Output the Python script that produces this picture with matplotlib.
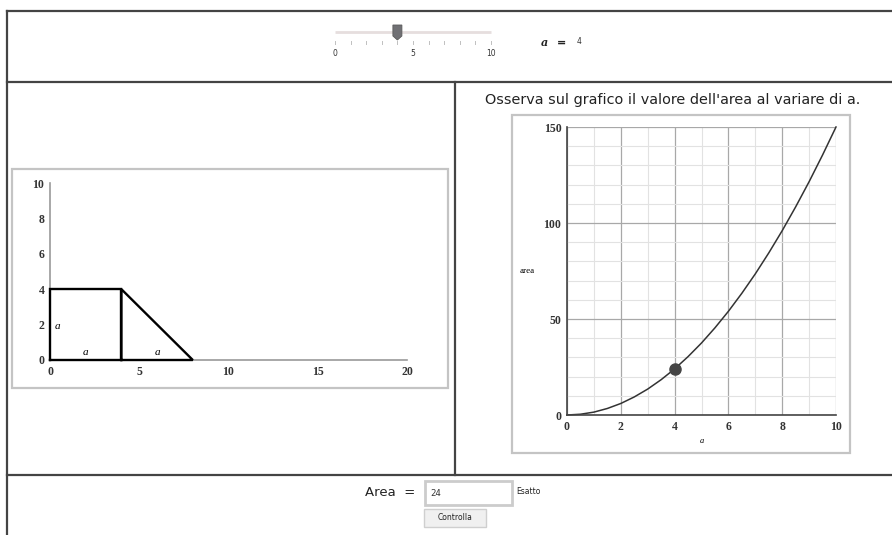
import matplotlib
matplotlib.use('Agg')
import matplotlib.pyplot as plt
from matplotlib.patches import Rectangle, Polygon
from matplotlib.ticker import MultipleLocator

# valore corrente del cursore
a_val = 4
slider_min, slider_max = 0, 10

# figura geometrica: rettangolo a x a e triangolo di base a
rect_x = [0, 4, 4, 0, 0]
rect_y = [0, 0, 4, 4, 0]
tri_x = [4, 4, 8, 4]
tri_y = [0, 4, 0, 0]
geo_xticks = [0, 5, 10, 15, 20]
geo_yticks = [0, 2, 4, 6, 8, 10]

# grafico dell'area in funzione di a
a_vals = [0, 0.5, 1, 1.5, 2, 2.5, 3, 3.5, 4, 4.5, 5, 5.5, 6, 6.5, 7, 7.5, 8, 8.5, 9, 9.5, 10]
area_vals = [0, 0.4, 1.5, 3.4, 6, 9.4, 13.5, 18.4, 24, 30.4, 37.5, 45.4, 54, 63.4,
             73.5, 84.4, 96, 108.4, 121.5, 135.4, 150]
area_xticks = [0, 2, 4, 6, 8, 10]
area_yticks = [0, 50, 100, 150]
area_point = (4, 24)

W, H = 892, 535
fig = plt.figure(figsize=(W / 100, H / 100), dpi=100)

# livello di sfondo in pixel
bg = fig.add_axes([0, 0, 1, 1])
bg.set_xlim(0, W)
bg.set_ylim(H, 0)
bg.axis('off')

frame = dict(color='#444444', lw=1.6)
bg.plot([7, W], [11, 11], **frame)
bg.plot([7, 7], [11, H], **frame)
bg.plot([7, W], [82, 82], **frame)
bg.plot([7, W], [475, 475], **frame)
bg.plot([455, 455], [82, 475], **frame)

# cursore
sx0, sx1, sy = 335, 491, 32
bg.plot([sx0, sx1], [sy, sy], color='#e6dede', lw=2, solid_capstyle='butt')
for v in range(slider_min, slider_max + 1):
    tx = sx0 + (sx1 - sx0) * (v - slider_min) / (slider_max - slider_min)
    bg.plot([tx, tx], [41, 44], color='#c0c0c0', lw=0.7)
    if v % 5 == 0:
        bg.text(tx, 54, str(v), ha='center', va='center', fontsize=5.5,
                family='DejaVu Sans', color='#333333')
thx = sx0 + (sx1 - sx0) * (a_val - slider_min) / (slider_max - slider_min)
bg.add_patch(Polygon([[thx - 4.5, 25], [thx + 4.5, 25], [thx + 4.5, 36], [thx, 40], [thx - 4.5, 36]],
                     closed=True, facecolor='#707074', edgecolor='#5a5a5a', lw=0.6, zorder=4))
bg.text(544, 43, 'a', ha='center', va='center', fontsize=8, style='italic',
        weight='bold', family='DejaVu Serif', color='#222222')
bg.text(561, 43, '=', ha='center', va='center', fontsize=8, weight='bold', color='#222222')
bg.text(579, 42, str(a_val), ha='center', va='center', fontsize=5.5, color='#333333')

# riquadri dei grafici
bg.add_patch(Rectangle((12, 169), 436, 219, fill=False, edgecolor='#c4c4c4', lw=1.6))
bg.add_patch(Rectangle((512, 115), 338, 338, fill=False, edgecolor='#c4c4c4', lw=1.6))

bg.text(673, 100, "Osserva sul grafico il valore dell'area al variare di a.",
        ha='center', va='center', fontsize=10.4, family='DejaVu Sans', color='#222222')

# zona risposta
bg.text(390, 493, 'Area  =', ha='center', va='center', fontsize=9.5,
        family='DejaVu Sans', color='#222222')
bg.add_patch(Rectangle((425, 481), 87, 24, facecolor='white', edgecolor='#cccccc', lw=2))
bg.text(430, 493, str(int(area_point[1])), ha='left', va='center', fontsize=6.5,
        family='DejaVu Sans Mono', color='#333333')
bg.text(516, 492, 'Esatto', ha='left', va='center', fontsize=5.5, color='#222222')
bg.add_patch(Rectangle((424, 509), 62, 18, facecolor='#f0f0f0', edgecolor='#cfcfcf', lw=1))
bg.text(455, 518, 'Controlla', ha='center', va='center', fontsize=5.5, color='#222222')

serif = 'Liberation Serif'

# grafico sinistro: figura
ax1 = fig.add_axes([50 / W, (H - 360) / H, 357 / W, 177 / H])
ax1.set_xlim(0, 20)
ax1.set_ylim(0, 10)
ax1.patch.set_alpha(0)
for s in ['top', 'right']:
    ax1.spines[s].set_visible(False)
for s in ['left', 'bottom']:
    ax1.spines[s].set_color('#9a9a9a')
    ax1.spines[s].set_linewidth(1.2)
ax1.set_xticks(geo_xticks)
ax1.set_yticks(geo_yticks)
ax1.tick_params(length=0, labelsize=8.5, pad=4)
for lab in ax1.get_xticklabels() + ax1.get_yticklabels():
    lab.set_family(serif)
    lab.set_weight('bold')
    lab.set_color('#333333')
ax1.plot(rect_x, rect_y, color='black', lw=1.7, clip_on=False, solid_joinstyle='miter', zorder=4)
ax1.plot(tri_x, tri_y, color='black', lw=1.7, clip_on=False, solid_joinstyle='miter', zorder=4)
ax1.text(0.25, 1.9, 'a', style='italic', fontsize=8, family=serif, ha='left', va='center')
ax1.text(2.0, 0.4, 'a', style='italic', fontsize=8, family=serif, ha='center', va='center')
ax1.text(6.0, 0.4, 'a', style='italic', fontsize=8, family=serif, ha='center', va='center')

# grafico destro: area
ax2 = fig.add_axes([567 / W, (H - 415) / H, 269 / W, 288 / H])
ax2.set_xlim(0, 10)
ax2.set_ylim(0, 150)
for s in ['top', 'right']:
    ax2.spines[s].set_visible(False)
for s in ['left', 'bottom']:
    ax2.spines[s].set_color('#444444')
    ax2.spines[s].set_linewidth(1.2)
ax2.set_xticks(area_xticks)
ax2.set_yticks(area_yticks)
ax2.xaxis.set_minor_locator(MultipleLocator(1))
ax2.yaxis.set_minor_locator(MultipleLocator(10))
ax2.grid(which='major', color='#a8a8a8', lw=0.9)
ax2.grid(which='minor', color='#e2e2e2', lw=0.8)
ax2.set_axisbelow(True)
ax2.tick_params(which='both', length=0, labelsize=8.5, pad=4)
for lab in ax2.get_xticklabels() + ax2.get_yticklabels():
    lab.set_family(serif)
    lab.set_weight('bold')
    lab.set_color('#333333')
ax2.plot(a_vals, area_vals, color='#333333', lw=1.1, clip_on=False)
ax2.plot([area_point[0]], [area_point[1]], 'o', color='#454545', markersize=8, zorder=5)
ax2.set_xlabel('a', fontsize=6, style='italic', family=serif, labelpad=3)
ax2.set_ylabel('area', fontsize=6.5, family=serif, rotation=0, labelpad=12, va='center')

fig.savefig('out.png', dpi=100)
